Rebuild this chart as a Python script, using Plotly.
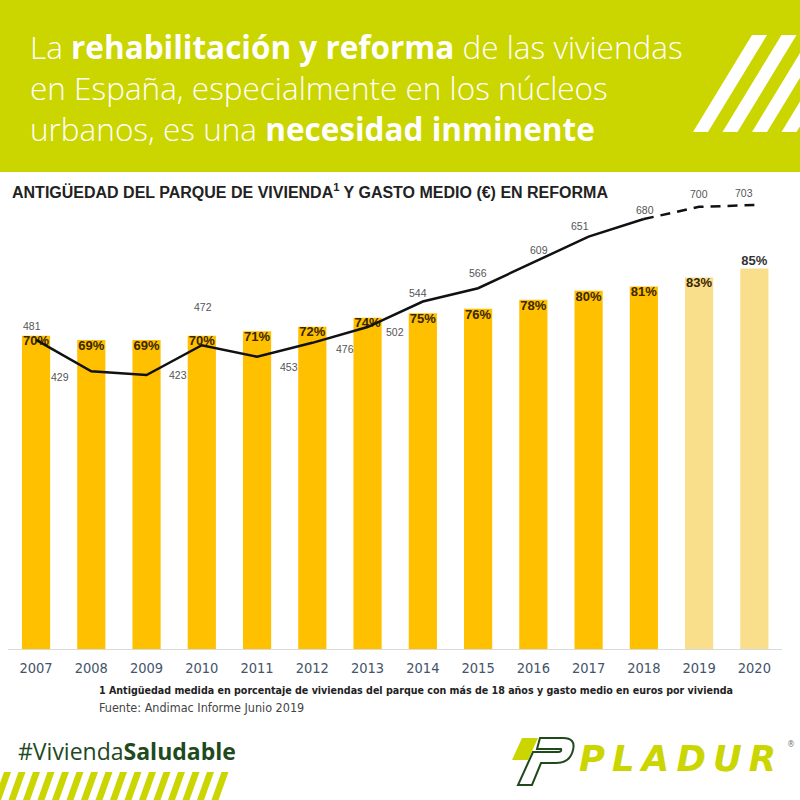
import plotly.graph_objects as go

# ---------------- data ----------------
years = ["2007", "2008", "2009", "2010", "2011", "2012", "2013",
         "2014", "2015", "2016", "2017", "2018", "2019", "2020"]
antiguedad_pct = [70, 69, 69, 70, 71, 72, 74, 75, 76, 78, 80, 81, 83, 85]
gasto_medio = [481, 429, 423, 472, 453, 476, 502, 544, 566, 609, 651, 680, 700, 703]
n_real = 12  # 2007-2018 real, 2019-2020 forecast

# ---------------- styles ----------------
W, H = 800, 800
LIME = "#CBD500"
DKGREEN = "#1E4A1E"
BAR_REAL = "#FFC000"
BAR_FCST = "#F9DE8C"

# label placement for the line values (pixel offsets, style only)
gasto_shift = [(-4, 14), (-31, -6), (31, 0), (1, 38), (32, -10), (33, -6), (27, -5),
               (-5, 9), (0, 15), (6, 12), (-9, 11), (1, 9), (0, 13), (-10, 12)]
bar_label_pos = ["bottom center"] * 13 + ["top center"]
bar_label_col = ["#3A2700"] * 13 + ["#333333"]


def px(x):
    return x / W


def py(y):
    return 1 - y / H


fig = go.Figure()

fig.add_trace(go.Bar(
    x=years, y=antiguedad_pct, width=0.51,
    marker=dict(color=[BAR_REAL] * n_real + [BAR_FCST] * (len(years) - n_real),
                line=dict(width=0)),
    hoverinfo="skip", showlegend=False))

fig.add_trace(go.Scatter(
    x=years, y=antiguedad_pct, mode="text",
    text=[f"{v}%" for v in antiguedad_pct],
    textposition=bar_label_pos,
    textfont=dict(family="Liberation Sans, Arial, sans-serif", size=13,
                  color=bar_label_col, weight="bold"),
    hoverinfo="skip", showlegend=False))

fig.add_trace(go.Scatter(
    x=years[:n_real], y=gasto_medio[:n_real], yaxis="y2", mode="lines",
    line=dict(color="#111111", width=2.5), hoverinfo="skip", showlegend=False))

fig.add_trace(go.Scatter(
    x=years[n_real - 1:], y=gasto_medio[n_real - 1:], yaxis="y2", mode="lines",
    line=dict(color="#111111", width=2.5, dash="10px,7px"),
    hoverinfo="skip", showlegend=False))

annotations = []
for i, (v, (dx, dy)) in enumerate(zip(gasto_medio, gasto_shift)):
    annotations.append(dict(
        x=i, y=v, xref="x", yref="y2", text=str(v), showarrow=False,
        xshift=dx, yshift=dy,
        font=dict(family="Liberation Sans, Arial, sans-serif", size=10.5, color="#555555")))

# header text (one block, three lines)
annotations.append(dict(
    x=px(29), y=py(88), xref="paper", yref="paper",
    text=("La <b>rehabilitación y reforma</b> de las viviendas<br>"
          "en España, especialmente en los núcleos<br>"
          "urbanos, es una <b>necesidad inminente</b>"),
    showarrow=False, xanchor="left", yanchor="middle", align="left", borderpad=0,
    font=dict(family="Open Sans, sans-serif", size=31.5, color="white", weight=300)))

# chart title
annotations.append(dict(
    x=px(10), y=py(191), xref="paper", yref="paper",
    text="ANTIGÜEDAD DEL PARQUE DE VIVIENDA<sup>1</sup> Y GASTO MEDIO (€) EN REFORMA",
    showarrow=False, xanchor="left", yanchor="middle",
    font=dict(family="Liberation Sans, Arial, sans-serif", size=16, color="#222222",
              weight="bold")))

# footnotes
annotations.append(dict(
    x=px(97), y=py(690), xref="paper", yref="paper",
    text="1 Antigüedad medida en porcentaje de viviendas del parque con más de 18 años y gasto medio en euros por vivienda",
    showarrow=False, xanchor="left", yanchor="middle",
    font=dict(family="DejaVu Sans Condensed, sans-serif", size=10.6,
              color="#222222", weight="bold")))
annotations.append(dict(
    x=px(97), y=py(707), xref="paper", yref="paper",
    text="Fuente: Andimac Informe Junio 2019",
    showarrow=False, xanchor="left", yanchor="middle",
    font=dict(family="DejaVu Sans Condensed, sans-serif", size=12.5,
              color="#444444")))

# hashtag
annotations.append(dict(
    x=px(16), y=py(751), xref="paper", yref="paper",
    text="#Vivienda<b>Saludable</b>", showarrow=False, xanchor="left", yanchor="middle",
    font=dict(family="Open Sans, sans-serif", size=23, color=DKGREEN)))

# PLADUR logo text
annotations.append(dict(
    x=px(578), y=py(758), xref="paper", yref="paper",
    text="<b><i>P\u2009L\u2009A\u2009D\u2009U\u2009R</i></b>", showarrow=False,
    xanchor="left", yanchor="middle", borderpad=0,
    font=dict(family="DejaVu Sans, sans-serif", size=35.5, color=LIME)))
annotations.append(dict(
    x=px(791), y=py(744), xref="paper", yref="paper", text="®", showarrow=False,
    xanchor="center", yanchor="middle", borderpad=0,
    font=dict(family="DejaVu Sans, sans-serif", size=8, color="#777777")))

shapes = []
# header band
shapes.append(dict(type="rect", xref="paper", yref="paper", x0=0, x1=1,
                   y0=py(172), y1=1, fillcolor=LIME, line=dict(width=0), layer="below"))
# header white stripes
for i in range(4):
    bx = 693 + 29.5 * i
    path = (f"M {px(bx)} {py(132)} L {px(bx + 15)} {py(132)} "
            f"L {px(bx + 15 + 59)} {py(35)} L {px(bx + 59)} {py(35)} Z")
    shapes.append(dict(type="path", xref="paper", yref="paper", path=path,
                       fillcolor="white", line=dict(width=0)))
# bottom-left lime stripes
for i in range(17):
    bx = -6 + 14.5 * i
    if bx > 225:
        break
    path = (f"M {px(bx)} {py(800)} L {px(bx + 7)} {py(800)} "
            f"L {px(bx + 17)} {py(772)} L {px(bx + 10)} {py(772)} Z")
    shapes.append(dict(type="path", xref="paper", yref="paper", path=path,
                       fillcolor=LIME, line=dict(width=0)))
# PLADUR P mark: lime slanted block + dark green outline
shapes.append(dict(type="path", xref="paper", yref="paper",
                   path=(f"M {px(522)} {py(738)} L {px(538)} {py(738)} "
                         f"L {px(528)} {py(760)} L {px(512)} {py(760)} Z"),
                   fillcolor=LIME, line=dict(width=0)))
shapes.append(dict(type="path", xref="paper", yref="paper",
                   path=(f"M {px(540)} {py(738)} L {px(563)} {py(738)} "
                         f"Q {px(576)} {py(738)} {px(573)} {py(750)} "
                         f"Q {px(570)} {py(763)} {px(556)} {py(763)} "
                         f"L {px(541)} {py(763)} L {px(532)} {py(785)} "
                         f"L {px(518)} {py(785)} L {px(533)} {py(752)} "
                         f"L {px(558)} {py(752)} Q {px(562)} {py(752)} {px(561)} {py(749)} "
                         f"L {px(537)} {py(749)} Z"),
                   fillcolor="rgba(0,0,0,0)", line=dict(color=DKGREEN, width=2)))

hidden_axis = dict(showgrid=False, zeroline=False, showline=False, ticks="",
                   showticklabels=False)

fig.update_layout(
    width=W, height=H, autosize=False,
    margin=dict(l=0, r=0, t=0, b=0),
    paper_bgcolor="white", plot_bgcolor="white",
    showlegend=False,
    xaxis=dict(domain=[px(8.4), px(782)], range=[-0.5, 13.5], type="category",
               showgrid=False, zeroline=False, showline=True, linecolor="#DADADA",
               linewidth=1, ticks="", ticklabelstandoff=6,
               tickfont=dict(family="Liberation Sans Narrow, DejaVu Sans Condensed, sans-serif",
                             size=14.5, color="#44546A")),
    yaxis=dict(domain=[1 - 649 / H, 1 - 200 / H], range=[0, 100.3], **hidden_axis),
    yaxis2=dict(overlaying="y", range=[-28.4, 711.3], **hidden_axis),
    annotations=annotations, shapes=shapes,
)

fig.write_html("out.html", config={"displayModeBar": False},
               post_script="document.body.style.margin='0px';document.body.style.overflow='hidden';")
